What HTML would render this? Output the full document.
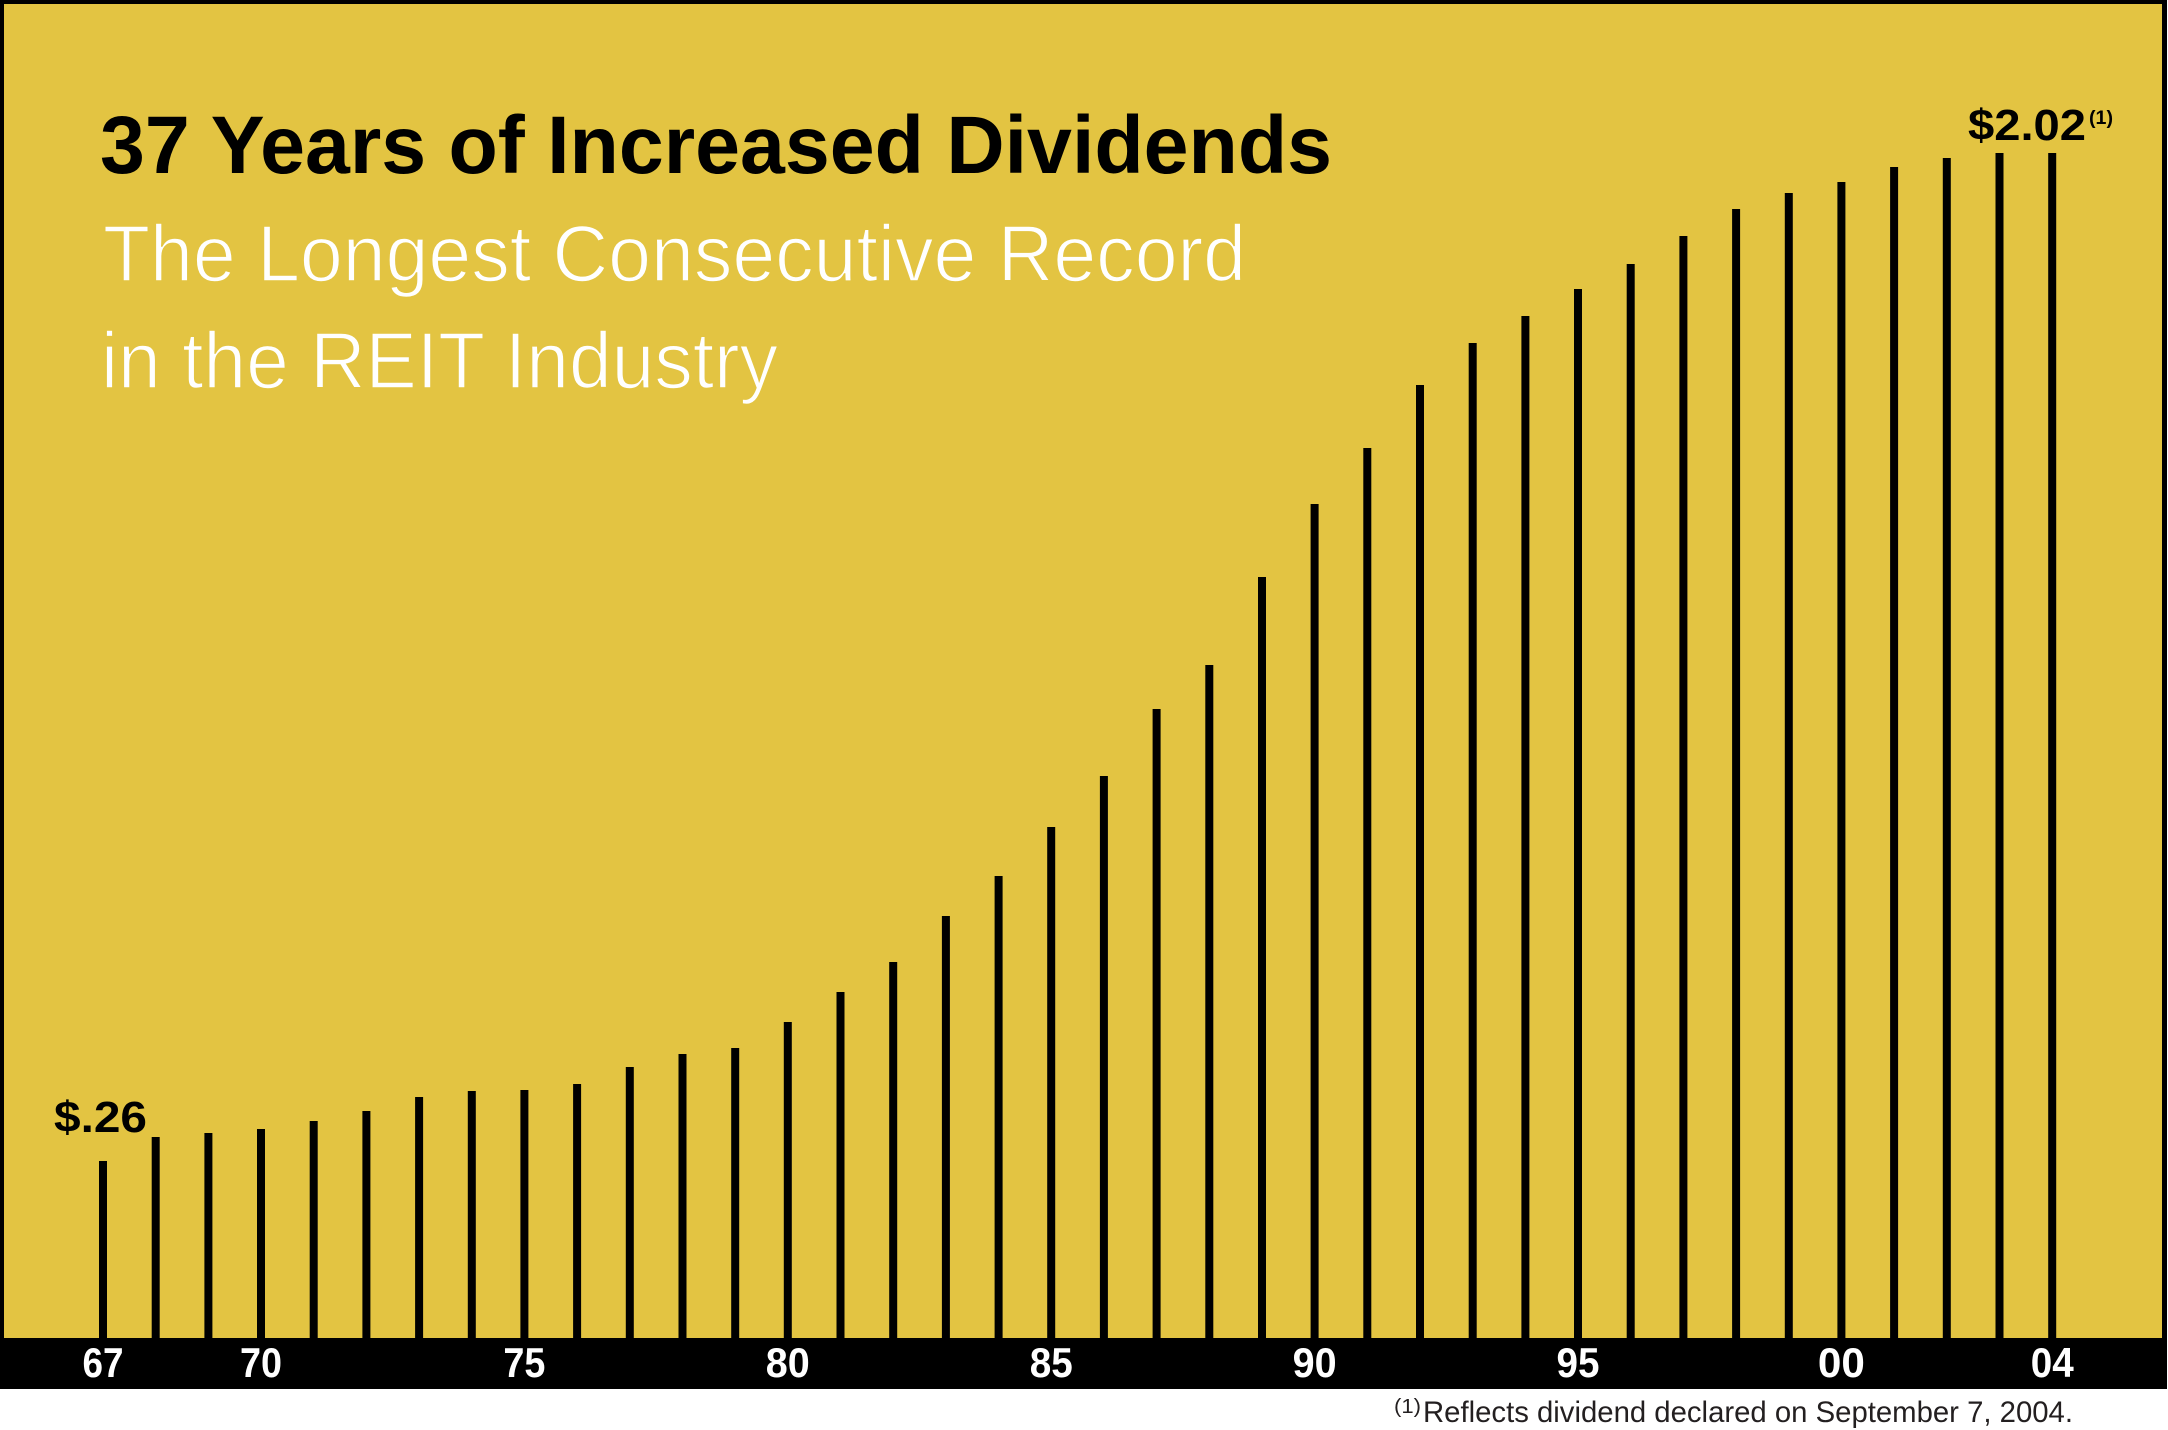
<!DOCTYPE html>
<html>
<head>
<meta charset="utf-8">
<style>
  html, body { margin: 0; padding: 0; background: #ffffff; }
  svg { display: block; }
  text { font-family: "Liberation Sans", "DejaVu Sans", sans-serif; }
</style>
</head>
<body>
<svg xmlns="http://www.w3.org/2000/svg" width="2168" height="1430" viewBox="0 0 2168 1430">
  <rect x="0" y="0" width="2168" height="1430" fill="#ffffff"/>
  <!-- black frame + bottom band -->
  <rect x="0" y="0" width="2167" height="1389" fill="#000000"/>
  <!-- yellow panel -->
  <rect x="4" y="4" width="2158" height="1334" fill="#E3C442"/>

  <!-- Title -->
  <text x="100" y="173" font-size="82" font-weight="bold" fill="#000" textLength="1232" lengthAdjust="spacingAndGlyphs">37 Years of Increased Dividends</text>
  <text x="103" y="281" font-size="80" fill="#ffffff" stroke="#E3C442" stroke-width="1.6" textLength="1143" lengthAdjust="spacingAndGlyphs">The Longest Consecutive Record</text>
  <text x="101" y="388" font-size="80" fill="#ffffff" stroke="#E3C442" stroke-width="1.6" textLength="677" lengthAdjust="spacingAndGlyphs">in the REIT Industry</text>

  <!-- Bars -->
  <g fill="#000">
    <rect x="99.0" y="1161" width="8" height="177"/>
    <rect x="151.7" y="1137" width="8" height="201"/>
    <rect x="204.4" y="1133" width="8" height="205"/>
    <rect x="257.0" y="1129" width="8" height="209"/>
    <rect x="309.7" y="1121" width="8" height="217"/>
    <rect x="362.4" y="1111" width="8" height="227"/>
    <rect x="415.1" y="1097" width="8" height="241"/>
    <rect x="467.8" y="1091" width="8" height="247"/>
    <rect x="520.4" y="1090" width="8" height="248"/>
    <rect x="573.1" y="1084" width="8" height="254"/>
    <rect x="625.8" y="1067" width="8" height="271"/>
    <rect x="678.5" y="1054" width="8" height="284"/>
    <rect x="731.2" y="1048" width="8" height="290"/>
    <rect x="783.8" y="1022" width="8" height="316"/>
    <rect x="836.5" y="992" width="8" height="346"/>
    <rect x="889.2" y="962" width="8" height="376"/>
    <rect x="941.9" y="916" width="8" height="422"/>
    <rect x="994.6" y="876" width="8" height="462"/>
    <rect x="1047.2" y="827" width="8" height="511"/>
    <rect x="1099.9" y="776" width="8" height="562"/>
    <rect x="1152.6" y="709" width="8" height="629"/>
    <rect x="1205.3" y="665" width="8" height="673"/>
    <rect x="1258.0" y="577" width="8" height="761"/>
    <rect x="1310.6" y="504" width="8" height="834"/>
    <rect x="1363.3" y="448" width="8" height="890"/>
    <rect x="1416.0" y="385" width="8" height="953"/>
    <rect x="1468.7" y="343" width="8" height="995"/>
    <rect x="1521.4" y="316" width="8" height="1022"/>
    <rect x="1574.0" y="289" width="8" height="1049"/>
    <rect x="1626.7" y="264" width="8" height="1074"/>
    <rect x="1679.4" y="236" width="8" height="1102"/>
    <rect x="1732.1" y="209" width="8" height="1129"/>
    <rect x="1784.8" y="193" width="8" height="1145"/>
    <rect x="1837.4" y="182" width="8" height="1156"/>
    <rect x="1890.1" y="167" width="8" height="1171"/>
    <rect x="1942.8" y="158" width="8" height="1180"/>
    <rect x="1995.5" y="153" width="8" height="1185"/>
    <rect x="2048.2" y="153" width="8" height="1185"/>
  </g>

  <!-- Value labels -->
  <text x="54" y="1132" font-size="44" font-weight="bold" fill="#000" textLength="93" lengthAdjust="spacingAndGlyphs">$.26</text>
  <text x="1968" y="140" font-size="44" font-weight="bold" fill="#000" textLength="118" lengthAdjust="spacingAndGlyphs">$2.02</text>
  <text x="2089" y="124" font-size="19" font-weight="bold" fill="#000" textLength="24" lengthAdjust="spacingAndGlyphs">(1)</text>

  <!-- Year labels -->
  <g font-size="42" font-weight="bold" fill="#ffffff" text-anchor="middle">
    <text x="103.0" y="1377" textLength="41" lengthAdjust="spacingAndGlyphs">67</text>
    <text x="261.0" y="1377" textLength="42" lengthAdjust="spacingAndGlyphs">70</text>
    <text x="524.4" y="1377" textLength="42" lengthAdjust="spacingAndGlyphs">75</text>
    <text x="787.8" y="1377" textLength="44" lengthAdjust="spacingAndGlyphs">80</text>
    <text x="1051.2" y="1377" textLength="43" lengthAdjust="spacingAndGlyphs">85</text>
    <text x="1314.6" y="1377" textLength="44" lengthAdjust="spacingAndGlyphs">90</text>
    <text x="1578.0" y="1377" textLength="43" lengthAdjust="spacingAndGlyphs">95</text>
    <text x="1841.4" y="1377" textLength="47" lengthAdjust="spacingAndGlyphs">00</text>
    <text x="2052.2" y="1377" textLength="43" lengthAdjust="spacingAndGlyphs">04</text>
  </g>

  <!-- Footnote -->
  <text x="1394" y="1413" font-size="20" fill="#231f20" textLength="27" lengthAdjust="spacingAndGlyphs">(1)</text>
  <text x="1423" y="1422" font-size="30" fill="#231f20" textLength="650" lengthAdjust="spacingAndGlyphs">Reflects dividend declared on September 7, 2004.</text>
</svg>
</body>
</html>
